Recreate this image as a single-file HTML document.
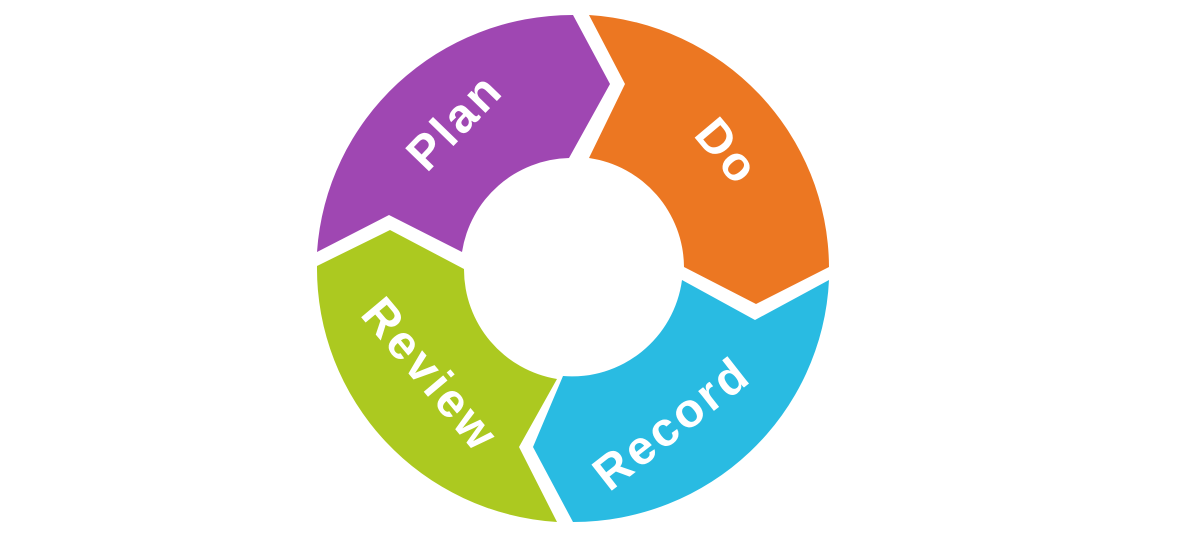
<!DOCTYPE html>
<html><head><meta charset="utf-8"><style>
html,body{margin:0;padding:0;background:#fff;width:1180px;height:538px;overflow:hidden}
text{font-family:"Liberation Sans",sans-serif;font-weight:bold;fill:#fff;font-size:48px;letter-spacing:3px}
</style></head><body>
<svg width="1180" height="538" viewBox="0 0 1180 538" xmlns="http://www.w3.org/2000/svg">
<path fill="#9f47b2" d="M317,252 A256,254 0 0 1 573,15 L610,84 L569,158 A111,111 0 0 0 462,252 L389,215 Z"/>
<path fill="#ec7722" d="M589,15 A256,254 0 0 1 829,267 L756,304 L684,267 A111,111 0 0 0 589,158 L625,84 Z"/>
<path fill="#29bbe2" d="M829,280 A256,254 0 0 1 573,522 L533,447 L563,376 A111,111 0 0 0 682,280 L755,320 Z"/>
<path fill="#acc920" d="M557,522 A256,254 0 0 1 317,266 L390,230 L464,269 A111,111 0 0 0 557,379 L519,447 Z"/>
<text transform="translate(455,122) rotate(-46)" text-anchor="middle" dominant-baseline="central">Plan</text>
<text transform="translate(727,152) rotate(50)" text-anchor="middle" dominant-baseline="central">Do</text>
<text transform="translate(672,424) rotate(-38)" text-anchor="middle" dominant-baseline="central">Record</text>
<text transform="translate(430,375) rotate(50)" text-anchor="middle" dominant-baseline="central">Review</text>
</svg>
</body></html>
